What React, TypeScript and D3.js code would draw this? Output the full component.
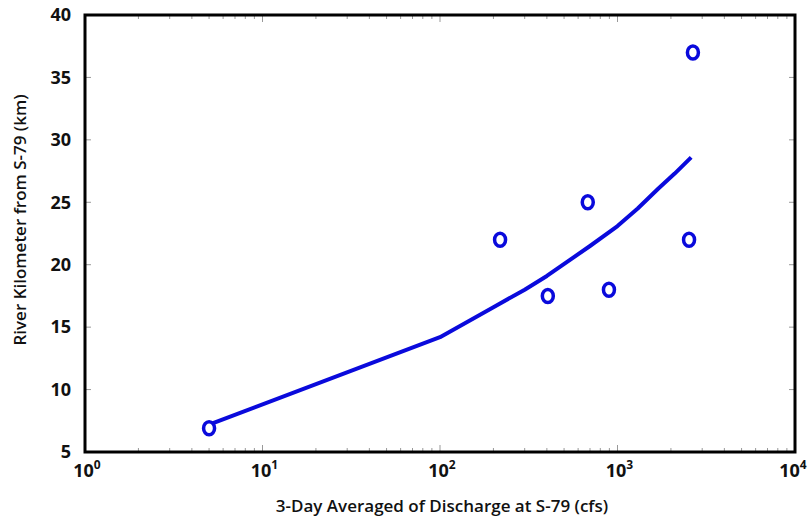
import React, { useEffect, useRef } from "react";
import * as d3 from "d3";

// Observed river kilometer vs. 3-day averaged discharge
const obsDischarge = [5, 218, 405, 680, 895, 2530, 2660];
const obsKm = [6.9, 22, 17.5, 25, 18, 22, 37];

// Fitted relation (discharge, km)
const fitDischarge = [5, 100, 200, 300, 400, 700, 1000, 1300, 1700, 2100, 2600];
const fitKm = [7.2, 14.2, 16.6, 18.0, 19.1, 21.5, 23.1, 24.5, 26.1, 27.3, 28.6];

const xDecades = [0, 1, 2, 3, 4];
const yTicks = [5, 10, 15, 20, 25, 30, 35, 40];

const W = 809;
const H = 517;
const M = { left: 85, right: 14, top: 15, bottom: 65 };
const BLUE = "#0a0adc";
const FONT = "'Open Sans', 'Noto Sans', sans-serif";

export default function App() {
  const ref = useRef<SVGSVGElement>(null);

  useEffect(() => {
    const svg = d3.select(ref.current);
    svg.selectAll("*").remove();

    const x = d3.scaleLog().domain([1, 1e4]).range([M.left, W - M.right]);
    const y = d3.scaleLinear().domain([5, 40]).range([H - M.bottom, M.top]);
    const [x0, x1] = x.range();
    const [y0, y1] = y.range();

    svg.append("rect").attr("width", W).attr("height", H).attr("fill", "#fff");

    // minor ticks along top and bottom (inside the frame)
    const minor: number[] = [];
    for (let d = 0; d < 4; d++) {
      for (let k = 2; k <= 9; k++) minor.push(k * Math.pow(10, d));
    }
    const tickG = svg.append("g").attr("stroke", "#999").attr("stroke-width", 1);
    minor.forEach((v) => {
      tickG.append("line").attr("x1", x(v)).attr("x2", x(v)).attr("y1", y0).attr("y2", y0 - 4);
      tickG.append("line").attr("x1", x(v)).attr("x2", x(v)).attr("y1", y1).attr("y2", y1 + 4);
    });
    xDecades.slice(1, -1).forEach((p) => {
      const v = Math.pow(10, p);
      tickG.append("line").attr("x1", x(v)).attr("x2", x(v)).attr("y1", y0).attr("y2", y0 - 7);
      tickG.append("line").attr("x1", x(v)).attr("x2", x(v)).attr("y1", y1).attr("y2", y1 + 7);
    });
    yTicks.slice(1, -1).forEach((t) => {
      tickG.append("line").attr("x1", x0).attr("x2", x0 + 6).attr("y1", y(t)).attr("y2", y(t));
      tickG.append("line").attr("x1", x1).attr("x2", x1 - 6).attr("y1", y(t)).attr("y2", y(t));
    });

    // frame
    svg
      .append("rect")
      .attr("x", x0)
      .attr("y", y1)
      .attr("width", x1 - x0)
      .attr("height", y0 - y1)
      .attr("fill", "none")
      .attr("stroke", "#000")
      .attr("stroke-width", 3);

    // y tick labels
    svg
      .append("g")
      .selectAll("text")
      .data(yTicks)
      .join("text")
      .attr("x", x0 - 14)
      .attr("y", (d) => y(d))
      .attr("dy", "0.35em")
      .attr("text-anchor", "end")
      .attr("font-family", FONT)
      .attr("font-weight", 700)
      .attr("font-size", 18)
      .attr("fill", "#111")
      .text((d) => d);

    // x tick labels as powers of ten (last one kept inside the canvas)
    const xl = svg
      .append("g")
      .selectAll("text")
      .data(xDecades)
      .join("text")
      .attr("x", (d) => Math.min(x(Math.pow(10, d)) + 2, W - 16))
      .attr("y", y0 + 25)
      .attr("text-anchor", "middle")
      .attr("font-family", FONT)
      .attr("font-weight", 700)
      .attr("font-size", 18)
      .attr("fill", "#111");
    xl.append("tspan").text("10");
    xl.append("tspan")
      .attr("dy", -8)
      .attr("font-size", 12)
      .text((d) => d);

    // axis titles
    svg
      .append("text")
      .attr("x", 442)
      .attr("y", H - 5)
      .attr("text-anchor", "middle")
      .attr("font-family", FONT)
      .attr("font-weight", 600)
      .attr("font-size", 17)
      .attr("fill", "#111")
      .text("3-Day Averaged of Discharge at S-79 (cfs)");
    svg
      .append("text")
      .attr("transform", `translate(26,220) rotate(-90)`)
      .attr("text-anchor", "middle")
      .attr("font-family", FONT)
      .attr("font-weight", 600)
      .attr("font-size", 17)
      .attr("fill", "#111")
      .text("River Kilometer from S-79 (km)");

    // fitted curve
    const fit = fitDischarge.map((q, i) => [q, fitKm[i]] as [number, number]);
    const line = d3
      .line<[number, number]>()
      .x((d) => x(d[0]))
      .y((d) => y(d[1]));
    svg
      .append("path")
      .attr("d", line(fit))
      .attr("fill", "none")
      .attr("stroke", BLUE)
      .attr("stroke-width", 4)
      .attr("stroke-linejoin", "round");

    // observations
    svg
      .append("g")
      .selectAll("ellipse")
      .data(obsDischarge.map((q, i) => [q, obsKm[i]]))
      .join("ellipse")
      .attr("cx", (d) => x(d[0]))
      .attr("cy", (d) => y(d[1]))
      .attr("rx", 5.5)
      .attr("ry", 6.5)
      .attr("fill", "#fff")
      .attr("stroke", BLUE)
      .attr("stroke-width", 3.5);
  }, []);

  return (
    <svg
      ref={ref}
      width={W}
      height={H}
      style={{ position: "absolute", left: 0, top: 0, display: "block" }}
    />
  );
}
